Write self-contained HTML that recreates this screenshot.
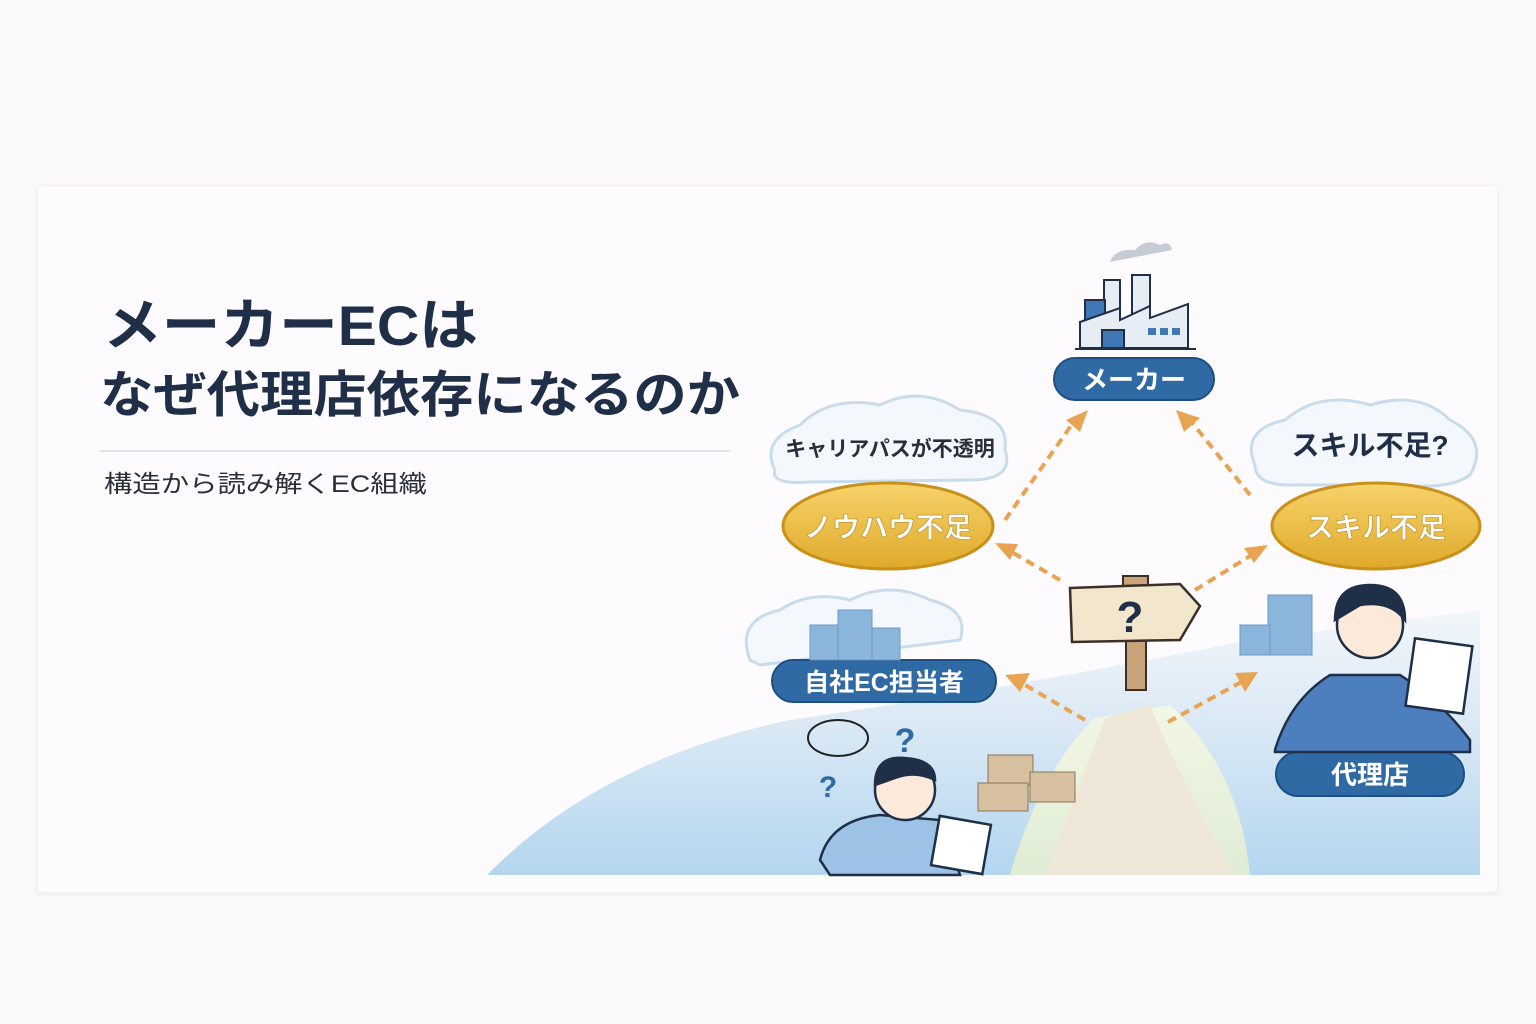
<!DOCTYPE html>
<html><head><meta charset="utf-8"><style>
body{margin:0;width:1536px;height:1024px;background:#fbf8fb;overflow:hidden;font-family:"Liberation Sans","Noto Sans CJK JP",sans-serif}
.card{position:absolute;left:38px;top:186px;width:1459px;height:706px;background:#fdfbfd;box-shadow:0 1px 6px rgba(0,0,0,0.08)}
svg{position:absolute;left:0;top:0}
</style></head><body>
<div class="card"></div>
<svg width="1536" height="1024" viewBox="0 0 1536 1024" font-family="Liberation Sans,Noto Sans CJK JP,sans-serif">
<defs>
<linearGradient id="sea" x1="0" y1="0" x2="0" y2="1"><stop offset="0" stop-color="#f2f7fb"/><stop offset="0.4" stop-color="#dceaf5"/><stop offset="1" stop-color="#b4d6ef"/></linearGradient>
<linearGradient id="gold" x1="0" y1="0" x2="0" y2="1"><stop offset="0" stop-color="#f6d36a"/><stop offset="1" stop-color="#e0a92a"/></linearGradient>
<linearGradient id="grass" x1="0" y1="0" x2="0" y2="1"><stop offset="0" stop-color="#f3f7e6"/><stop offset="1" stop-color="#dfecd4"/></linearGradient>
</defs>
<text x="103" y="345" font-size="56" font-weight="bold" fill="#1f2f48" textLength="375" lengthAdjust="spacingAndGlyphs">メーカーECは</text>
<text x="100" y="412" font-size="50" font-weight="bold" fill="#1f2f48" textLength="640" lengthAdjust="spacingAndGlyphs">なぜ代理店依存になるのか</text>
<line x1="100" y1="451" x2="730" y2="451" stroke="#d8d8dc" stroke-width="1.5"/>
<text x="104" y="492" font-size="24" fill="#2b2f38" textLength="323" lengthAdjust="spacingAndGlyphs">構造から読み解くEC組織</text>
<path d="M487 875 Q600 760 790 720 Q1000 690 1250 640 L1480 610 L1480 875 Z" fill="url(#sea)"/>
<path d="M1010 875 Q1040 770 1095 718 L1170 705 Q1240 770 1250 875 Z" fill="url(#grass)"/>
<path d="M1045 875 Q1085 770 1105 718 L1150 705 Q1185 790 1235 875 Z" fill="#efe8d8"/>
<g fill="#f4f7fb" stroke="#c8dcee" stroke-width="3">
<path d="M775 470 Q760 440 800 425 Q830 395 880 405 Q920 385 960 410 Q1010 415 1005 450 Q1015 480 970 480 L810 482 Q770 485 775 470Z"/>
<path d="M1255 465 Q1240 430 1285 420 Q1320 390 1370 405 Q1420 390 1450 420 Q1490 440 1470 475 Q1450 490 1400 485 L1290 485 Q1255 485 1255 465Z"/>
<path d="M750 660 Q735 620 780 610 Q810 590 850 600 Q890 580 930 600 Q970 610 960 640 L760 665Z"/>
</g>
<g stroke="#1f2f48" stroke-width="2">
<rect x="1104" y="280" width="16" height="40" fill="#e6edf5"/><rect x="1132" y="275" width="18" height="45" fill="#e6edf5"/>
<rect x="1085" y="300" width="20" height="22" fill="#3f78b5"/>
<path d="M1080 348 L1080 322 L1120 308 L1120 320 L1150 306 L1150 318 L1188 304 L1188 348Z" fill="#e6edf5"/>
<rect x="1102" y="330" width="22" height="18" fill="#3f78b5"/>
<line x1="1075" y1="349" x2="1196" y2="349"/>
</g>
<g fill="#3f78b5"><rect x="1148" y="328" width="8" height="7"/><rect x="1160" y="328" width="8" height="7"/><rect x="1172" y="328" width="8" height="7"/></g>
<path d="M1110 262 Q1115 248 1135 250 Q1145 238 1160 245 Q1170 240 1172 250 L1110 262Z" fill="#c6ccd4"/>
<rect x="1054" y="358" width="160" height="42" rx="21" fill="#2f6aa5" stroke="#1d4f85" stroke-width="2"/>
<text x="1134" y="389" font-size="26" font-weight="bold" fill="#fff" text-anchor="middle">メーカー</text>
<rect x="772" y="660" width="224" height="42" rx="21" fill="#2f6aa5" stroke="#1d4f85" stroke-width="2"/>
<text x="884" y="691" font-size="25" font-weight="bold" fill="#fff" text-anchor="middle">自社EC担当者</text>
<rect x="1276" y="752" width="188" height="44" rx="22" fill="#2f6aa5" stroke="#1d4f85" stroke-width="2"/>
<text x="1370" y="784" font-size="26" font-weight="bold" fill="#fff" text-anchor="middle">代理店</text>
<ellipse cx="888" cy="526" rx="105" ry="43" fill="url(#gold)" stroke="#c9901a" stroke-width="3"/>
<text x="888" y="537" font-size="28" font-weight="bold" fill="#fff" text-anchor="middle" stroke="#b58a2a" stroke-width="0.6">ノウハウ不足</text>
<ellipse cx="1376" cy="526" rx="104" ry="43" fill="url(#gold)" stroke="#c9901a" stroke-width="3"/>
<text x="1376" y="537" font-size="28" font-weight="bold" fill="#fff" text-anchor="middle" stroke="#b58a2a" stroke-width="0.6">スキル不足</text>
<text x="890" y="456" font-size="21" font-weight="bold" fill="#2a2e38" text-anchor="middle">キャリアパスが不透明</text>
<text x="1370" y="455" font-size="28" font-weight="bold" fill="#1f2f48" text-anchor="middle">スキル不足?</text>
<g stroke="#e8a453" stroke-width="4" stroke-dasharray="9 6" fill="none">
<path d="M1005 520 L1075 420"/><path d="M1250 495 L1190 420"/>
<path d="M1060 580 L1008 550"/><path d="M1195 590 L1255 553"/>
<path d="M1085 720 L1020 682"/><path d="M1168 722 L1245 680"/>
</g>
<g fill="#e8a453">
<path d="M1088 410 L1066 420 L1080 432Z"/><path d="M1176 410 L1200 418 L1184 432Z"/>
<path d="M995 543 L1018 544 L1010 560Z"/><path d="M1268 545 L1244 548 L1254 563Z"/>
<path d="M1005 675 L1030 673 L1020 692Z"/><path d="M1258 672 L1235 673 L1245 692Z"/>
</g>
<rect x="1126" y="630" width="20" height="60" fill="#c9a37a" stroke="#3a3028" stroke-width="2"/>
<rect x="1123" y="576" width="25" height="10" fill="#c9a37a" stroke="#3a3028" stroke-width="2"/>
<path d="M1070 588 L1180 584 L1200 606 L1180 640 L1072 642Z" fill="#f2e6cc" stroke="#3a3028" stroke-width="2.5"/>
<text x="1130" y="632" font-size="44" font-weight="bold" fill="#1f2f48" text-anchor="middle">?</text>
<g fill="#8bb6dc" stroke="#6b9ac6"><rect x="810" y="625" width="30" height="35"/><rect x="838" y="610" width="34" height="50"/><rect x="872" y="628" width="28" height="32"/><rect x="1268" y="595" width="44" height="60"/><rect x="1240" y="625" width="30" height="30"/></g>
<g stroke="#1f2f48" stroke-width="2.5">
<path d="M1275 750 Q1290 700 1330 675 L1400 675 Q1440 700 1470 740 L1470 752 L1275 752Z" fill="#4d7fbe"/>
<circle cx="1370" cy="625" r="33" fill="#fde9d9"/>
<path d="M1335 620 Q1335 585 1370 585 Q1405 585 1405 620 Q1390 600 1360 605Z" fill="#1f2f48"/>
<rect x="1410" y="642" width="58" height="68" fill="#fff" transform="rotate(8 1439 676)"/>
<path d="M820 860 Q830 820 880 815 L940 820 L960 875 L830 875Z" fill="#9cc3e6"/>
<circle cx="905" cy="790" r="30" fill="#fde9d9"/>
<path d="M875 785 Q875 755 905 758 Q935 760 935 780 Q915 770 895 778Z" fill="#1f2f48"/>
<rect x="935" y="820" width="52" height="50" fill="#fff" transform="rotate(10 961 845)"/>
</g>
<text x="905" y="752" font-size="34" font-weight="bold" fill="#2f6aa5" text-anchor="middle">?</text>
<text x="828" y="797" font-size="30" font-weight="bold" fill="#2f6aa5" text-anchor="middle">?</text>
<ellipse cx="838" cy="738" rx="30" ry="18" fill="none" stroke="#222" stroke-width="2"/>
<g fill="#d6c0a0" stroke="#8a7358"><rect x="988" y="755" width="45" height="30"/><rect x="978" y="783" width="50" height="28"/><rect x="1030" y="772" width="45" height="30"/></g>
</svg>
</body></html>
